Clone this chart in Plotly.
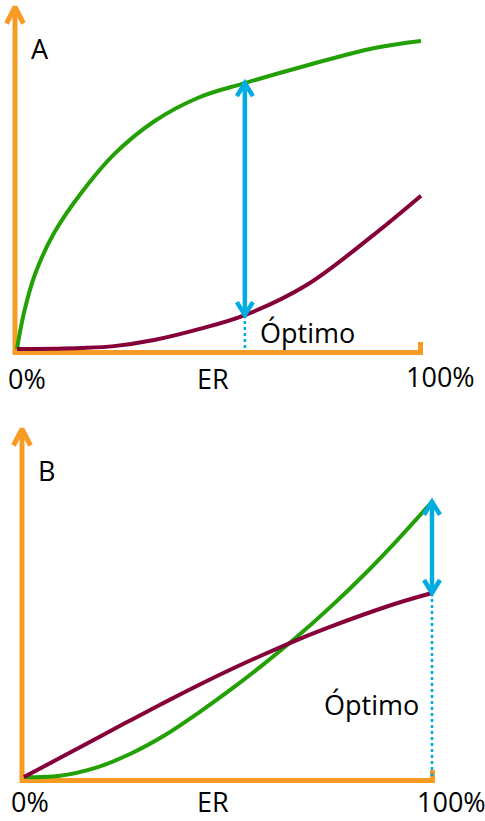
import plotly.graph_objects as go

W, H = 485, 821

# ---------------- data ----------------
panel_labels = ["A", "B"]
axis_labels = ["0%", "ER", "100%"]
optimum_label = "Óptimo"

# Panel A
er_a = [0, 1.7, 4.5, 9.2, 15.8, 24, 33.9, 45, 56.4, 71.7, 88.2, 100]
green_a = [0, 11.2, 23.5, 36.3, 48.6, 60.8, 71.1, 78.6, 83.1, 88.6, 94.0, 96.25]
maroon_a = [0, 0, 0.01, 0.08, 0.3, 0.9, 2.8, 6.2, 10.6, 20.0, 35.6, 47.9]
optimum_a = 56.4

# Panel B
er_b = [0, 8.3, 18.1, 26.5, 34.6, 42.6, 51.7, 58.6, 66.9, 75, 83.1, 91.4, 100]
green_b = [0, 0.3, 3.1, 7.5, 13.1, 19.9, 28.3, 35.1, 43.8, 53.0, 62.9, 73.9, 86.0]
maroon_b = [0, 5.6, 12.3, 18.0, 23.4, 28.6, 34.2, 38.2, 42.8, 46.9, 50.7, 54.3, 57.5]
optimum_b = 100

# ---------------- style ----------------
ORANGE = "#F89B24"
GREEN = "#22A005"
MAROON = "#850039"
BLUE = "#00ACE0"
FONT = "Open Sans"
FS = 27

# panel geometry (pixel origin & pixel scale per unit)
PA = dict(ox=17, oy=349, sx=4.04, sy=3.2, top=0, bot=395, xa="x", ya="y")
PB = dict(ox=24, oy=777, sx=4.08, sy=3.2, top=395, bot=H, xa="x2", ya="y2")


def U(p, px):
    return (px - p["ox"]) / p["sx"]


def V(p, py):
    return (p["oy"] - py) / p["sy"]


fig = go.Figure()


def add_line(p, xs, ys, color, width, dash=None):
    fig.add_trace(go.Scatter(
        x=xs, y=ys, mode="lines", xaxis=p["xa"], yaxis=p["ya"],
        line=dict(color=color, width=width, dash=dash),
        hoverinfo="skip", showlegend=False, connectgaps=False))


def add_axes(p, ax_x, ax_y, tip_y, end_x, tick_top):
    # orange frame: arrow up, vertical line, horizontal line, end tick
    add_line(p,
             [U(p, ax_x), U(p, ax_x), U(p, end_x), U(p, end_x)],
             [V(p, tip_y), V(p, ax_y), V(p, ax_y), V(p, tick_top)],
             ORANGE, 5)
    add_line(p,
             [U(p, ax_x - 8.5), U(p, ax_x), U(p, ax_x + 8.5)],
             [V(p, tip_y + 16.5), V(p, tip_y), V(p, tip_y + 16.5)],
             ORANGE, 5)


def add_curve(p, er, vals, color):
    fig.add_trace(go.Scatter(
        x=er, y=vals, mode="lines", xaxis=p["xa"], yaxis=p["ya"],
        line=dict(color=color, width=4, shape="spline", smoothing=1.0),
        hoverinfo="skip", showlegend=False))


def add_double_arrow(p, x, y_top, y_bot, axis_py):
    dx = 8 / p["sx"]
    dy = 13 / p["sy"]
    # dotted drop line
    add_line(p, [x, x], [y_bot, V(p, axis_py)], BLUE, 2.5, dash="dot")
    xs = [x - dx, x, x + dx, None, x, x, None, x - dx, x, x + dx]
    ys = [y_top - dy, y_top, y_top - dy, None, y_top, y_bot, None, y_bot + dy, y_bot, y_bot + dy]
    add_line(p, xs, ys, BLUE, 4.5)


# Panel A
add_axes(PA, ax_x=15, ax_y=352.5, tip_y=7, end_x=420.5, tick_top=342)
add_curve(PA, er_a, green_a, GREEN)
add_curve(PA, er_a, maroon_a, MAROON)
ia = er_a.index(optimum_a)
add_double_arrow(PA, optimum_a, green_a[ia], maroon_a[ia], 350)

# Panel B
add_axes(PB, ax_x=22, ax_y=780.5, tip_y=429, end_x=432.5, tick_top=770)
add_curve(PB, er_b, green_b, GREEN)
add_curve(PB, er_b, maroon_b, MAROON)
ib = er_b.index(optimum_b)
add_double_arrow(PB, optimum_b, green_b[ib], maroon_b[ib], 778)


def text(s, px, py, bottom=False):
    fig.add_annotation(text=s, x=px / W, y=0 if bottom else 1 - py / H,
                       xref="paper", yref="paper",
                       xanchor="center", yanchor="bottom" if bottom else "middle",
                       showarrow=False, borderpad=0,
                       font=dict(family=FONT, size=FS, color="#000000"))


text(panel_labels[0], 40, 48)
text(panel_labels[1], 46.5, 471)
text(axis_labels[0], 27, 378)
text(axis_labels[1], 213, 378)
text(axis_labels[2], 440, 376)
text(axis_labels[0], 29.5, 804, bottom=True)
text(axis_labels[1], 213, 804, bottom=True)
text(axis_labels[2], 451.5, 804, bottom=True)
text(optimum_label, 307, 332)
text(optimum_label, 371, 704)


def rng(p, lo_px, hi_px, axis):
    if axis == "x":
        return [U(p, lo_px), U(p, hi_px)]
    return [V(p, hi_px), V(p, lo_px)]


common = dict(visible=False, fixedrange=True, showgrid=False, zeroline=False)
fig.update_layout(
    width=W, height=H,
    margin=dict(l=0, r=0, t=0, b=0, pad=0),
    paper_bgcolor="white", plot_bgcolor="white",
    showlegend=False,
    xaxis=dict(domain=[0, 1], range=rng(PA, 0, W, "x"), anchor="y", **common),
    yaxis=dict(domain=[1 - PA["bot"] / H, 1], range=rng(PA, PA["top"], PA["bot"], "y"), anchor="x", **common),
    xaxis2=dict(domain=[0, 1], range=rng(PB, 0, W, "x"), anchor="y2", **common),
    yaxis2=dict(domain=[0, 1 - PB["top"] / H], range=rng(PB, PB["top"], PB["bot"], "y"), anchor="x2", **common),
)

fig.write_html(
    "out.html",
    config={"displayModeBar": False, "staticPlot": True},
    post_script="document.body.style.margin='0';document.body.style.padding='0';"
                "document.documentElement.style.overflow='hidden';",
)
